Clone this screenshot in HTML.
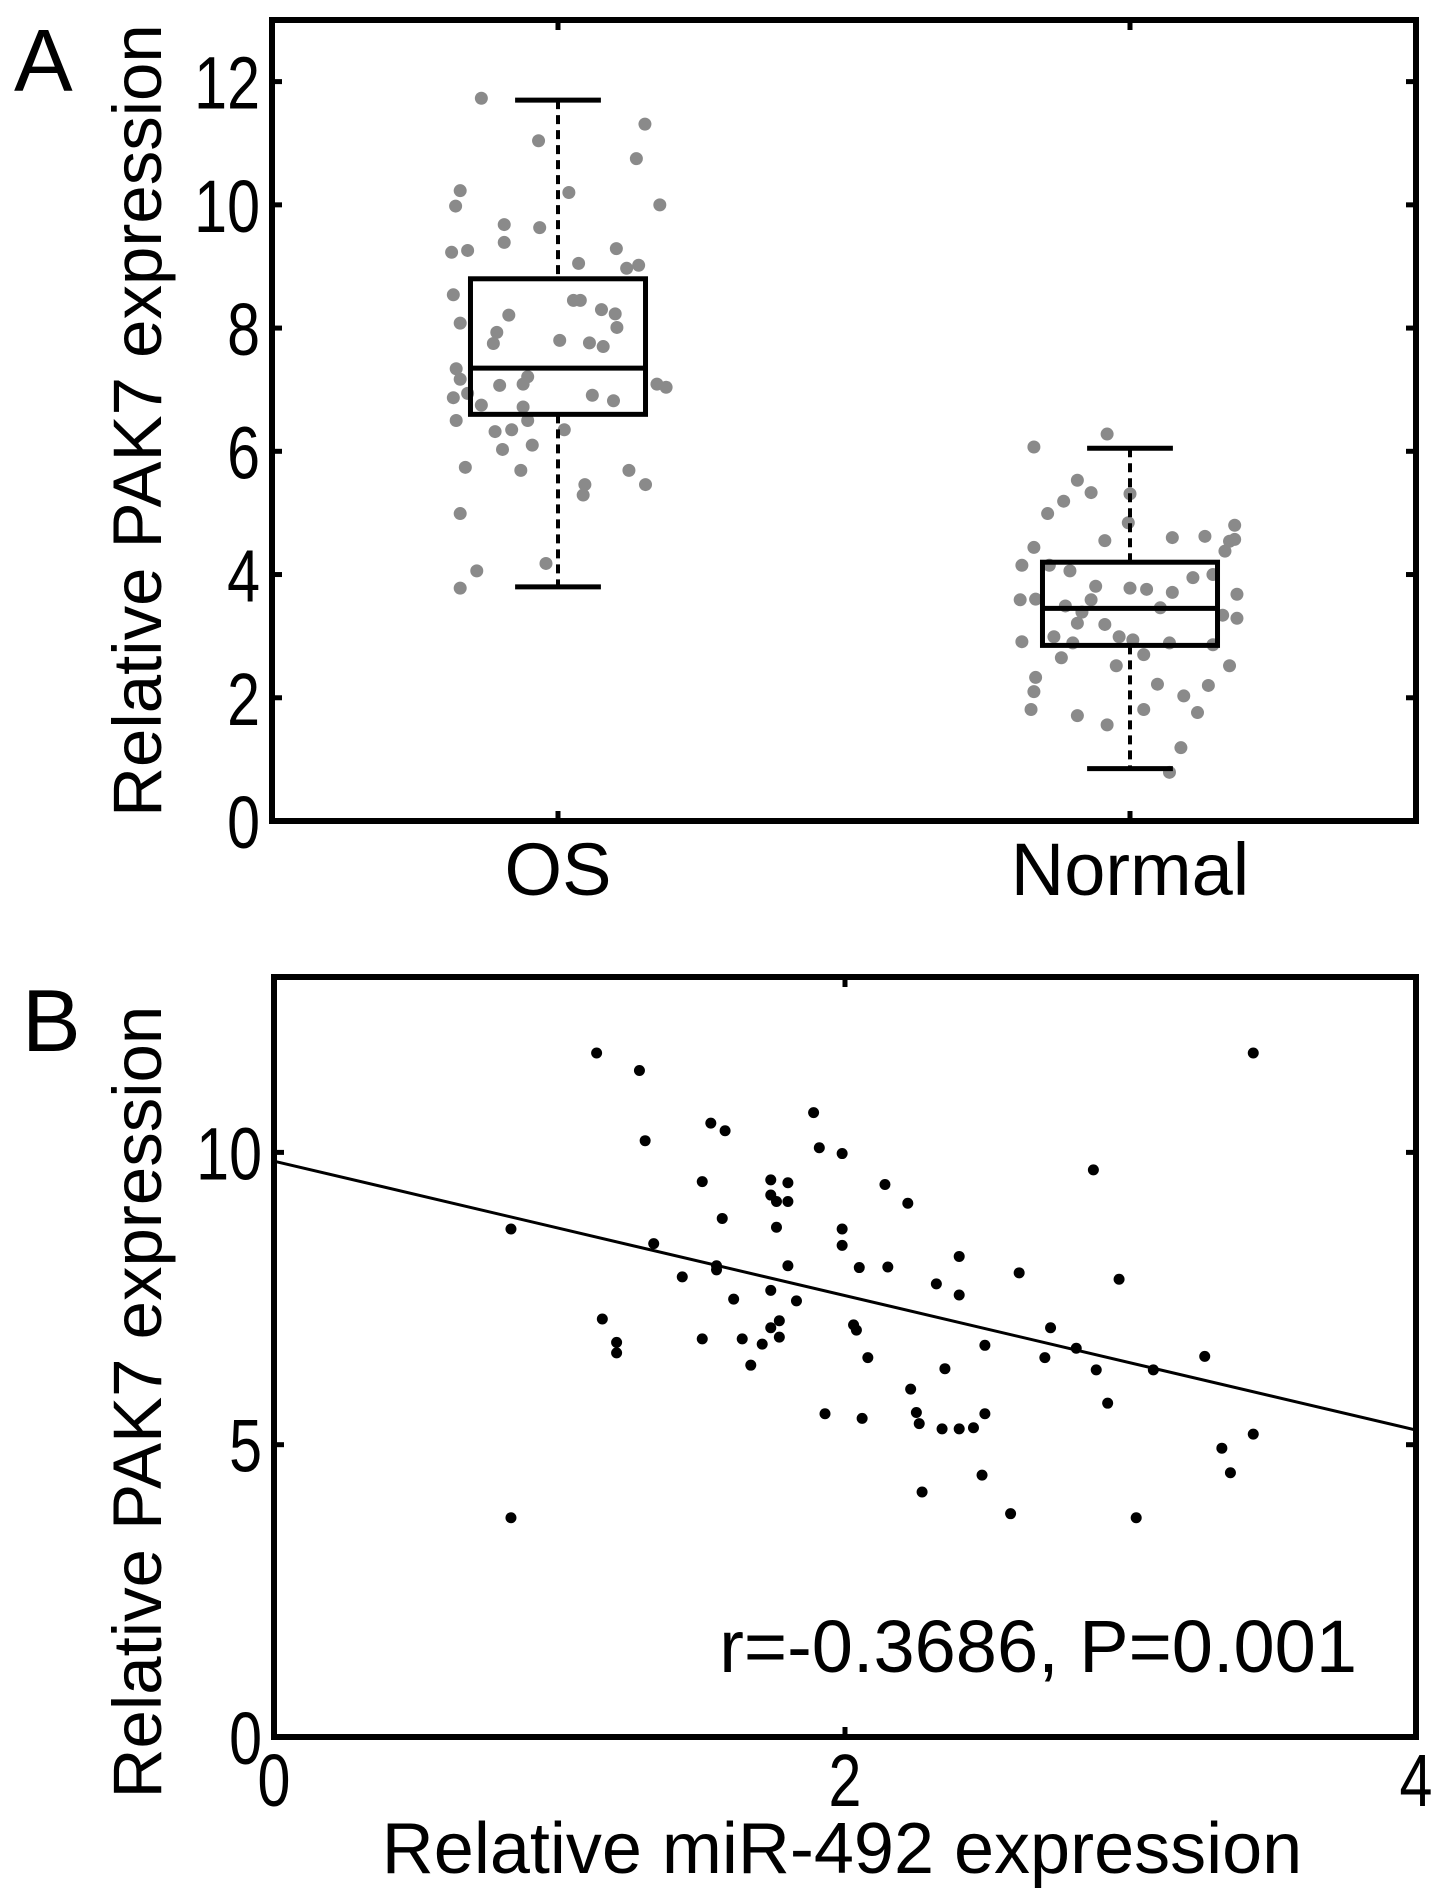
<!DOCTYPE html>
<html><head><meta charset="utf-8">
<style>
html,body{margin:0;padding:0;background:#fff;}
svg{display:block;}
text{font-family:"Liberation Sans",Arial,sans-serif;fill:#000;}
</style></head>
<body>
<svg id="fig" width="1441" height="1904" viewBox="0 0 1441 1904" xmlns="http://www.w3.org/2000/svg">
  <text x="14" y="91" font-size="88">A</text>
  <text x="22" y="1051" font-size="88">B</text>
  <g id="pa"></g>
  <g id="pb"></g>
</svg>
<script>
// ---------- Panel A data ----------
const catsA = ["OS", "Normal"];
const boxMin = [3.8, 0.85];
const boxQ1 = [6.6, 2.85];
const boxMed = [7.35, 3.45];
const boxQ3 = [8.8, 4.2];
const boxMax = [11.7, 6.05];
const yTicksA = [0, 2, 4, 6, 8, 10, 12];
const osVals = [11.73,11.04,11.31,10.75,10.23,9.98,10.2,10.0,9.68,9.63,9.23,9.26,9.39,9.29,9.05,8.97,9.02,8.54,8.45,8.45,8.30,8.23,8.21,8.08,8.01,7.93,7.75,7.80,7.76,7.70,7.34,7.17,7.07,7.09,7.21,7.09,7.04,6.94,6.87,6.91,6.82,6.75,6.72,6.50,6.50,6.32,6.35,6.35,6.03,6.10,5.74,5.69,5.69,5.46,5.46,5.29,4.99,4.18,4.06,3.78];
const osJit = [-0.134,-0.034,0.152,0.137,-0.171,-0.179,0.019,0.178,-0.094,-0.032,-0.186,-0.158,-0.094,0.102,0.036,0.120,0.141,-0.183,0.027,0.039,0.076,0.100,-0.086,-0.171,0.103,-0.107,-0.113,0.003,0.055,0.079,-0.178,-0.171,-0.102,-0.061,-0.053,0.173,0.189,-0.158,-0.183,0.060,0.097,-0.134,-0.061,-0.178,-0.053,-0.110,-0.081,0.011,-0.097,-0.045,-0.162,-0.065,0.124,0.153,0.047,0.044,-0.171,-0.021,-0.142,-0.171];
const nVals = [6.28,6.07,5.53,5.33,5.19,5.31,4.99,4.84,4.80,4.54,4.55,4.60,4.62,4.57,4.44,4.38,4.15,4.15,4.06,4.00,3.95,3.81,3.78,3.76,3.71,3.68,3.59,3.60,3.59,3.49,3.39,3.46,3.34,3.29,3.21,3.19,2.99,2.99,2.94,2.91,2.89,2.89,2.86,2.65,2.70,2.52,2.52,2.33,2.22,2.20,2.10,2.03,1.81,1.81,1.76,1.71,1.56,1.19,0.79];
const nJit = [-0.040,-0.168,-0.092,-0.068,-0.116,0,-0.144,-0.003,0.183,0.174,-0.044,0.074,0.131,0.183,-0.168,0.166,-0.189,-0.141,-0.105,0.145,0.110,-0.060,0,0.029,0.074,0.187,-0.192,-0.165,-0.068,-0.113,-0.084,0.053,0.162,0.187,-0.092,-0.044,-0.133,-0.019,0.005,-0.189,-0.100,0.069,0.145,-0.120,0.024,0.174,-0.024,-0.165,0.048,0.137,-0.168,0.094,-0.173,0.024,0.118,-0.092,-0.040,0.089,0.069];

// ---------- Panel B data ----------
const mirX = [1.13,1.28,3.43,1.89,1.53,1.58,1.30,1.91,1.99,2.87,1.50,1.74,1.80,2.14,1.74,1.76,1.80,2.22,1.57,0.83,1.76,1.99,1.99,1.33,2.40,1.55,1.55,1.80,2.05,2.15,2.61,1.43,2.96,2.32,1.74,2.40,1.61,1.83,1.15,1.77,2.03,2.04,1.74,2.72,1.20,1.50,1.64,1.77,1.71,2.49,2.81,1.20,2.08,2.70,3.26,1.67,2.35,2.88,3.08,2.23,2.92,1.93,2.06,2.25,2.26,2.34,2.40,2.45,2.49,3.43,3.32,2.48,3.35,2.27,2.58,3.02,0.83];
const pakY = [11.7,11.4,11.7,10.68,10.5,10.37,10.2,10.08,9.98,9.7,9.5,9.53,9.48,9.45,9.27,9.16,9.16,9.13,8.87,8.69,8.72,8.69,8.41,8.44,8.22,8.06,7.99,8.06,8.03,8.04,7.94,7.87,7.83,7.75,7.64,7.56,7.49,7.46,7.15,7.12,7.05,6.96,7.0,7.0,6.75,6.81,6.81,6.84,6.72,6.70,6.65,6.57,6.49,6.49,6.51,6.36,6.30,6.28,6.28,5.95,5.71,5.53,5.45,5.55,5.36,5.27,5.27,5.29,5.53,5.18,4.94,4.48,4.52,4.19,3.82,3.75,3.75];
const fitLine = [9.85, 5.25]; // y at x=0 and x=4
const xTicksB = [0, 2, 4];
const yTicksB = [0, 5, 10];

const NS = "http://www.w3.org/2000/svg";
function mk(parent, tag, attrs) {
  const e = document.createElementNS(NS, tag);
  for (const k in attrs) e.setAttribute(k, attrs[k]);
  parent.appendChild(e);
  return e;
}

// ===== Panel A =====
const pa = document.getElementById('pa');
const AL = 272, AR = 1416, AT = 20, AB = 821;
const ax = v => AL + (v - 0.5) / 2 * (AR - AL);
const ay = v => AB - v / 13 * (AB - AT);

// ticks
yTicksA.forEach(t => {
  const l1 = mk(pa, 'line', {x1: AL, x2: AL + 10, y1: ay(t), y2: ay(t), stroke: '#000', 'stroke-width': 5});
  
  
  const l2 = mk(pa, 'line', {x1: AR, x2: AR - 10, y1: ay(t), y2: ay(t), stroke: '#000', 'stroke-width': 5});
  
  
  const tx = mk(pa, 'text', {'font-size': 74, 'text-anchor': 'end', transform: `translate(${AL - 12},${ay(t) + 27}) scale(0.8,1)`});
  tx.textContent = t;
  
  
});
catsA.forEach((c, i) => {
  const x = ax(i + 1);
  const t1 = mk(pa, 'line', {x1: x, x2: x, y1: AB, y2: AB - 10, stroke: '#000', 'stroke-width': 5});
  
  
  const t2 = mk(pa, 'line', {x1: x, x2: x, y1: AT, y2: AT + 10, stroke: '#000', 'stroke-width': 5});
  
  
  const tl = mk(pa, 'text', {x: x, y: 895, 'font-size': 74, 'text-anchor': 'middle'});
  tl.textContent = c;
  
  
});

// dots
function dots(vals, jit, cat) {
  vals.forEach((v, i) => {
    const d = mk(pa, 'circle', {cx: ax(cat + jit[i]), cy: ay(v), r: 6.5, fill: '#8a8a8a'});
    
    
  });
}
dots(osVals, osJit, 1);
dots(nVals, nJit, 2);

// boxes
catsA.forEach((c, i) => {
  const x = ax(i + 1), hw = 0.153 * (AR - AL) / 2, cw = 0.075 * (AR - AL) / 2;
  const w1 = mk(pa, 'line', {x1: x, x2: x, y1: ay(boxMax[i]), y2: ay(boxQ3[i]), stroke: '#000', 'stroke-width': 4, 'stroke-dasharray': '9 6'});
  
  
  const w2 = mk(pa, 'line', {x1: x, x2: x, y1: ay(boxQ1[i]), y2: ay(boxMin[i]), stroke: '#000', 'stroke-width': 4, 'stroke-dasharray': '9 6'});
  
  
  const c1 = mk(pa, 'line', {x1: x - cw, x2: x + cw, y1: ay(boxMax[i]), y2: ay(boxMax[i]), stroke: '#000', 'stroke-width': 5});
  
  
  const c2 = mk(pa, 'line', {x1: x - cw, x2: x + cw, y1: ay(boxMin[i]), y2: ay(boxMin[i]), stroke: '#000', 'stroke-width': 5});
  
  
  const r = mk(pa, 'rect', {x: x - hw, y: ay(boxQ3[i]), width: 2 * hw, height: ay(boxQ1[i]) - ay(boxQ3[i]), fill: 'none', stroke: '#000', 'stroke-width': 5});
  
  
  const m = mk(pa, 'line', {x1: x - hw, x2: x + hw, y1: ay(boxMed[i]), y2: ay(boxMed[i]), stroke: '#000', 'stroke-width': 5});
  
  
});

const frA = mk(pa, 'rect', {x: AL, y: AT, width: AR - AL, height: AB - AT, fill: 'none', stroke: '#000', 'stroke-width': 6});


const ytA = mk(pa, 'text', {'font-size': 69, 'text-anchor': 'middle', transform: `translate(161,${(AT + AB) / 2}) rotate(-90)`});
ytA.textContent = 'Relative PAK7 expression';



// ===== Panel B =====
const pb = document.getElementById('pb');
const BL = 274, BR = 1416, BT = 977, BB = 1737;
const bx = v => BL + v / 4 * (BR - BL);
const by = v => BB - v / 13 * (BB - BT);

yTicksB.forEach(t => {
  const l1 = mk(pb, 'line', {x1: BL, x2: BL + 10, y1: by(t), y2: by(t), stroke: '#000', 'stroke-width': 5});
  
  
  const l2 = mk(pb, 'line', {x1: BR, x2: BR - 10, y1: by(t), y2: by(t), stroke: '#000', 'stroke-width': 5});
  
  
  const tx = mk(pb, 'text', {'font-size': 74, 'text-anchor': 'end', transform: `translate(${BL - 12},${by(t) + 27}) scale(0.8,1)`});
  tx.textContent = t;
  
  
});
xTicksB.forEach(t => {
  const l1 = mk(pb, 'line', {x1: bx(t), x2: bx(t), y1: BB, y2: BB - 10, stroke: '#000', 'stroke-width': 5});
  
  
  const l2 = mk(pb, 'line', {x1: bx(t), x2: bx(t), y1: BT, y2: BT + 10, stroke: '#000', 'stroke-width': 5});
  
  
  const tx = mk(pb, 'text', {'font-size': 74, 'text-anchor': 'middle', transform: `translate(${bx(t)},1806) scale(0.8,1)`});
  tx.textContent = t;
  
  
});

const fl = mk(pb, 'line', {x1: bx(0), y1: by(fitLine[0]), x2: bx(4), y2: by(fitLine[1]), stroke: '#000', 'stroke-width': 3});



mirX.forEach((v, i) => {
  const d = mk(pb, 'circle', {cx: bx(v), cy: by(pakY[i]), r: 5.5, fill: '#000'});
  
  
});

const frB = mk(pb, 'rect', {x: BL, y: BT, width: BR - BL, height: BB - BT, fill: 'none', stroke: '#000', 'stroke-width': 6});



const ann = mk(pb, 'text', {x: 1357, y: 1672, 'font-size': 74, 'text-anchor': 'end'});
ann.textContent = 'r=-0.3686, P=0.001';



const ytB = mk(pb, 'text', {'font-size': 69, 'text-anchor': 'middle', transform: `translate(161,1402) rotate(-90)`});
ytB.textContent = 'Relative PAK7 expression';



const xtB = mk(pb, 'text', {x: 842, y: 1873, 'font-size': 72, 'text-anchor': 'middle'});
xtB.textContent = 'Relative miR-492 expression';


</script>
</body></html>
